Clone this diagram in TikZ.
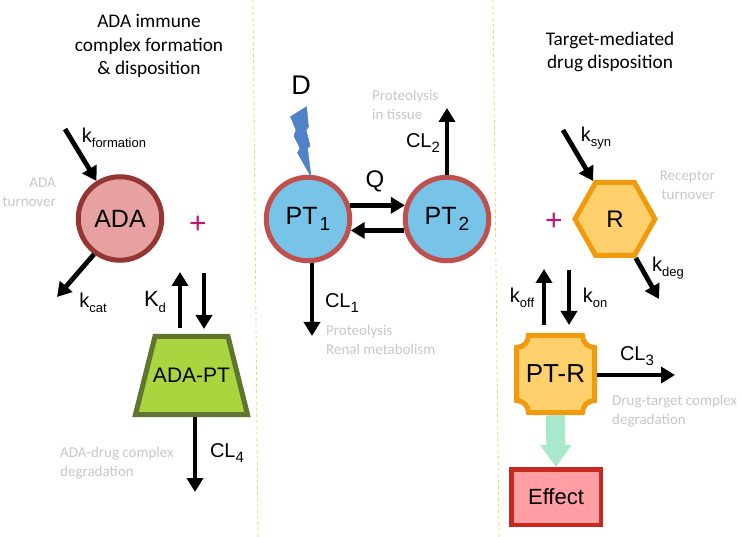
\documentclass[tikz,border=0pt]{standalone}
\usepackage{fontspec}
\setmainfont{Liberation Sans}
\newfontfamily\notefont{Carlito}
\usetikzlibrary{arrows.meta,shapes.symbols}
\definecolor{adafill}{HTML}{E6A1A0}
\definecolor{adaline}{HTML}{943634}
\definecolor{ptfill}{HTML}{78C4E8}
\definecolor{ptline}{HTML}{C0504D}
\definecolor{cplxfill}{HTML}{A9D53F}
\definecolor{cplxline}{HTML}{5F7530}
\definecolor{recfill}{HTML}{FFD06C}
\definecolor{recline}{HTML}{F29A0E}
\definecolor{efffill}{HTML}{FF9FA5}
\definecolor{effline}{HTML}{C8281E}
\definecolor{signalgreen}{HTML}{A8E8CC}
\definecolor{plusred}{HTML}{C0186E}
\definecolor{boltblue}{HTML}{4F82C8}
\definecolor{notegray}{HTML}{C8C8C8}
\definecolor{divider}{HTML}{E8D85A}
\newcommand{\rate}[2]{#1\raisebox{-.45ex}{\fontsize{13}{13}\selectfont #2}}
\newcommand{\clear}[1]{CL\raisebox{-.45ex}{\fontsize{15}{15}\selectfont #1}}
\newcommand{\cmt}[1]{PT\raisebox{-.5ex}{\kern2pt\fontsize{19}{19}\selectfont #1}}
\tikzset{
  flow/.style={draw=black,line width=4.8pt,-{Triangle[width=16pt,length=14pt]}},
  rlabel/.style={inner sep=0pt,font=\fontsize{20}{24}\selectfont},
  note/.style={inner sep=0pt,anchor=west,align=left,text=notegray,font=\notefont\fontsize{15}{18.5}\selectfont},
  heading/.style={inner sep=0pt,align=center,font=\notefont\fontsize{19.3}{23.5}\selectfont},
  sep/.style={draw=divider,dashed,line width=.8pt},
  compart/.style={circle,line width=5pt,minimum size=83.5pt,font=\fontsize{25}{30}\selectfont},
  plusmark/.style={inner sep=0pt,text=plusred,font=\fontsize{30}{30}\selectfont},
}
\begin{document}
\begin{tikzpicture}[x=1pt,y=-1pt]
  \useasboundingbox (0,0) rectangle (742,537);
  \fill[white] (0,0) rectangle (742,537);
  % column separators
  \draw[sep] (253,0) -- (258,537);
  \draw[sep] (493,0) -- (499,537);
  % headings
  \node[heading] (HA) at (149,46) {ADA immune\\complex formation\\\& disposition};
  \node[heading] (HT) at (610,52) {Target-mediated\\drug disposition};
  % species
  \node[compart,draw=adaline,fill=adafill] (ADA) at (120,218.5) {ADA};
  \node[compart,draw=ptline,fill=ptfill] (PTa) at (308,219) {\cmt{1}};
  \node[compart,draw=ptline,fill=ptfill] (PTb) at (447,219) {\cmt{2}};
  \draw[draw=cplxline,fill=cplxfill,line width=5pt]
    (155,336.5) -- (228,336.5) -- (247.5,414.5) -- (135.5,414.5) -- cycle;
  \node[inner sep=0pt,minimum width=77pt,minimum height=83pt,font=\fontsize{21}{25}\selectfont] (ADAPT) at (191.5,375.5) {\raisebox{-4pt}{ADA-PT}};
  \node[signal,signal to=west and east,signal pointer angle=121,draw=recline,fill=recfill,line width=5pt,
    minimum width=80pt,minimum height=73pt,inner sep=0pt,font=\fontsize{24}{30}\selectfont] (R) at (615,219) {R};
  % plaque outline behind the complex label
  \draw[draw=recline,fill=recfill,line width=5pt]
    (528.5,335.5) -- (582.5,335.5) arc[start angle=180,end angle=90,radius=12]
    -- (594.5,400.5) arc[start angle=-90,end angle=-180,radius=12]
    -- (528.5,412.5) arc[start angle=0,end angle=-90,radius=12]
    -- (516.5,347.5) arc[start angle=90,end angle=0,radius=12] -- cycle;
  \node[inner sep=0pt,minimum width=83pt,minimum height=82pt,font=\fontsize{26}{30}\selectfont] (PTR) at (555.5,374) {PT-R};
  \node[rectangle,draw=effline,fill=efffill,line width=4.5pt,minimum width=89.5pt,minimum height=55.5pt,
    font=\fontsize{22}{26}\selectfont] (EFF) at (556,497) {Effect};
  % depot lightning
  \draw[draw=boltblue!80!gray,fill=boltblue,line width=.5pt] (306.5,106.7) -- (290.5,116.7) -- (296,130) -- (294,136)
    -- (300,148.3) -- (297.5,152.7) -- (311,176.7) -- (307.5,148) -- (310,146) -- (306,130) -- (308.5,126.7) -- cycle;
  \node[inner sep=0pt,font=\fontsize{27}{30}\selectfont] (D) at (301,85) {D};
  % free ends of the connectors
  \coordinate (kfIn) at (65,129);
  \coordinate (kcOut) at (57,297);
  \coordinate (KdUa) at (180,328);
  \coordinate (KdUb) at (180,272);
  \coordinate (KdDa) at (204,273);
  \coordinate (KdDb) at (204,329);
  \coordinate (CLd) at (195,492);
  \coordinate (CLa) at (312,336);
  \coordinate (CLb) at (447,108);
  \coordinate (ksIn) at (563,130);
  \coordinate (kdOut) at (659,299);
  \coordinate (koUa) at (544,325);
  \coordinate (koUb) at (544,269);
  \coordinate (knDa) at (569,270);
  \coordinate (knDb) at (569,325);
  \coordinate (CLc) at (675,375);
  % connectors
  \draw[flow] (kfIn) -- (ADA.122);
  \draw[flow] (ADA.234) -- (kcOut);
  \draw[flow] (KdUa) -- (KdUb);
  \draw[flow] (KdDa) -- (KdDb);
  \draw[flow] (ADAPT.south -| CLd) -- (CLd);
  \draw[flow] (PTa.18) -- (PTb.162);
  \draw[flow] (PTb.195) -- (PTa.-15);
  \draw[flow] (PTa.south -| CLa) -- (CLa);
  \draw[flow] (PTb.north) -- (CLb);
  \draw[flow] (ksIn) -- (R.north west);
  \draw[flow] (R.south east) -- (kdOut);
  \draw[flow] (koUa) -- (koUb);
  \draw[flow] (knDa) -- (knDb);
  \draw[flow] (PTR.east |- CLc) -- (CLc);
  \draw[draw=signalgreen,line width=19pt,-{Triangle[width=30pt,length=22pt]}] (PTR.south) -- (EFF.north);
  % rate labels
  \node[rlabel] (kf) at (114,138) {\rate{k}{formation}};
  \node[rlabel] (kc) at (93,303) {\rate{k}{cat}};
  \node[rlabel,font=\fontsize{22}{24}\selectfont] (Kd) at (155,302) {\rate{K}{d}};
  \node[rlabel,font=\fontsize{24}{24}\selectfont] (Q) at (375,181) {Q};
  \node[rlabel] (CLtwo) at (423,143) {\clear{2}};
  \node[rlabel] (CLone) at (342,303) {\clear{1}};
  \node[rlabel] (CLfour) at (227,453) {\clear{4}};
  \node[rlabel] (CLthree) at (637,356) {\clear{3}};
  \node[rlabel] (ks) at (596,138) {\rate{k}{syn}};
  \node[rlabel] (kd) at (668,268) {\rate{k}{deg}};
  \node[rlabel] (koff) at (522,298) {\rate{k}{off}};
  \node[rlabel] (kon) at (595,298) {\rate{k}{on}};
  % plus signs
  \node[plusmark] (PLa) at (198,225) {+};
  \node[plusmark] (PLb) at (554,222) {+};
  % side notes
  \node[note,align=right,anchor=east] (Na) at (56,192) {ADA\\turnover};
  \node[note] (Nb) at (60,463) {ADA-drug complex\\degradation};
  \node[note] (Nc) at (372,105) {Proteolysis\\in tissue};
  \node[note] (Nd) at (326,340) {Proteolysis\\Renal metabolism};
  \node[note,align=right,anchor=east] (Ne) at (715,185) {Receptor\\turnover};
  \node[note] (Nf) at (612,411) {Drug-target complex\\degradation};
\end{tikzpicture}
\end{document}
